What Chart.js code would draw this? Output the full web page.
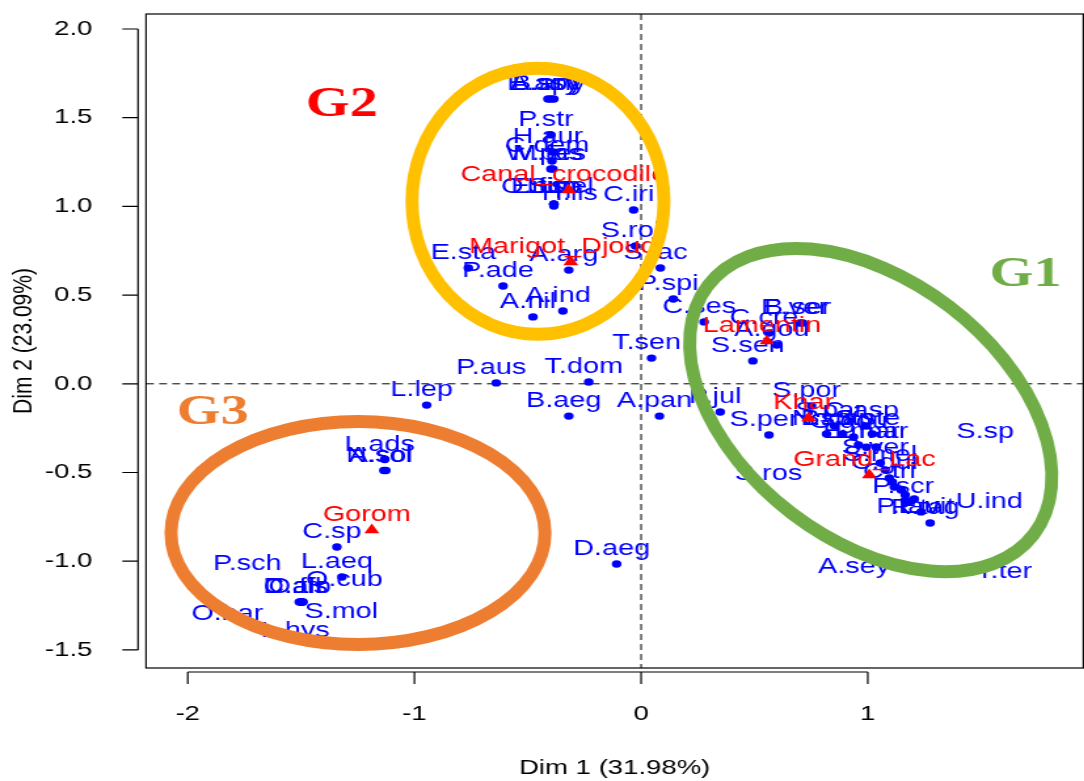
<!DOCTYPE html>
<html>
<head>
<meta charset="utf-8">
<script src="https://cdn.jsdelivr.net/npm/chart.js"></script>
<style>
  html, body { margin: 0; padding: 0; overflow: hidden; background: #fff; }
  canvas { display: block; }
</style>
</head>
<body>
<canvas id="mapChart" width="833" height="781" style="width:1092px;height:781px"></canvas>
<script>
// species coordinates on the first two dimensions
const speciesNames = [
  'A.spy', 'E.asy', 'B.any', 'P.str', 'H.aur', 'C.dem', 'W.pes', 'M.fas',
  'O.niv', 'E.fim', 'L.sp', 'S.pel', 'H.lis', 'C.iri', 'S.rol', 'S.lac',
  'A.arg', 'E.sta', 'P.ade', 'A.ind', 'A.nil', 'P.spi', 'C.ses', 'T.sen',
  'P.aus', 'T.dom', 'L.lep', 'B.aeg', 'A.pan', 'P.jul', 'S.per', 'S.sen',
  'E.ver', 'B.ser', 'C.cre', 'A.gou', 'S.por', 'S.par', 'C.asp', 'N.sp',
  'B.cap', 'G.gou', 'S.ste', 'L.mar', 'E.mar', 'S.ver', 'S.mel', 'C.gui',
  'C.tri', 'P.scr', 'P.tau', 'E.vit', 'R.tag', 'U.ind', 'S.sp', 'S.ros',
  'A.sey', 'T.ter', 'L.ads', 'A.sol', 'N.sol', 'C.sp', 'L.aeq', 'O.cub',
  'D.afr', 'C.alb', 'O.fis', 'S.mol', 'P.sch', 'O.bar', 'L.hys', 'D.aeg'
];
const speciesDim1 = [
  -0.398, -0.411, -0.385, -0.398, -0.389, -0.393, -0.398, -0.389,
  -0.385, -0.385, -0.385, -0.385, -0.385, -0.033, -0.025, 0.085,
  -0.319, -0.762, -0.609, -0.345, -0.477, 0.142, 0.278, 0.046,
  -0.639, -0.231, -0.946, -0.319, 0.081, 0.349, 0.564, 0.493,
  0.700, 0.713, 0.564, 0.599, 0.752, 0.853, 0.994, 0.818,
  0.889, 0.937, 1.020, 1.038, 0.994, 1.055, 1.077, 1.095,
  1.117, 1.178, 1.165, 1.192, 1.275, 1.205, 1.108, 0.959,
  1.147, 1.235, -1.131, -1.126, -1.135, -1.342, -1.320, -1.499,
  -1.508, -1.495, -1.491, -1.499, -1.499, -1.499, -1.499, -0.108
];
const speciesDim2 = [
  1.605, 1.605, 1.605, 1.403, 1.307, 1.256, 1.211, 1.211,
  1.013, 1.013, 1.013, 1.013, 1.002, 0.980, 0.777, 0.653,
  0.641, 0.653, 0.551, 0.410, 0.377, 0.478, 0.349, 0.145,
  0.005, 0.010, -0.120, -0.182, -0.182, -0.159, -0.289, 0.129,
  0.343, 0.343, 0.286, 0.219, -0.125, -0.238, -0.238, -0.283,
  -0.283, -0.300, -0.283, -0.356, -0.358, -0.446, -0.486, -0.531,
  -0.582, -0.666, -0.627, -0.661, -0.785, -0.649, -0.553, -0.345,
  -0.599, -0.722, -0.427, -0.489, -0.489, -0.920, -1.089, -1.230,
  -1.230, -1.230, -1.230, -1.230, -1.230, -1.230, -1.230, -1.016
];

// sampling sites (red triangles)
const siteNames = ['Canal_crocodile', 'Marigot_Djoudj', 'Lamentin', 'Khar', 'Grand_Lac', 'Gorom'];
const siteDim1 = [-0.319, -0.310, 0.555, 0.739, 1.007, -1.188];
const siteDim2 = [1.092, 0.687, 0.241, -0.193, -0.514, -0.824];

const xTicks = [-2, -1, 0, 1];
const yTicks = [2, 1.5, 1, 0.5, 0, -0.5, -1, -1.5];
const xTitle = 'Dim 1 (31.98%)';
const yTitle = 'Dim 2 (23.09%)';

// the picture is drawn on a narrower canvas and stretched sideways
const S = 1092 / 833;
const FONT = "'Liberation Sans', Arial, Helvetica, sans-serif";

// labels pushed away from crowded points (screen px)
const labelNudge = {
  'O.niv': [-14, -2], 'E.fim': [-5, -2], 'L.sp': [5, -2], 'S.pel': [12, -2], 'H.lis': [21, 3],
  'P.tau': [8, 27], 'E.vit': [20, 21], 'U.ind': [80, 18], 'S.sp': [98, -35],
  'S.ros': [-85, 44], 'A.sey': [-42, 92], 'T.ter': [88, 75],
  'O.cub': [48, -7], 'S.mol': [45, 25], 'P.sch': [-49, -23], 'O.bar': [-69, 27], 'L.hys': [-1, 44]
};

// hand drawn group rings (centre in data units, radii in screen px)
const groupRings = [
  {color: '#FFC000', dim1: -0.455, dim2: 1.029, rx: 126, ry: 133, tilt: 0, width: 13},
  {color: '#70AD47', dim1: 1.013, dim2: -0.148, rx: 205, ry: 130, tilt: 37.3, width: 13},
  {color: '#ED7D31', dim1: -1.249, dim2: -0.841, rx: 187, ry: 111.5, tilt: 0, width: 13}
];
const groupTags = [
  {text: 'G2', color: '#FF0000', dim1: -1.320, dim2: 1.572},
  {text: 'G1', color: '#70AD47', dim1: 1.696, dim2: 0.613},
  {text: 'G3', color: '#ED7D31', dim1: -1.890, dim2: -0.165}
];

function drawLabels(chart, meta, names, color) {
  const ctx = chart.ctx;
  ctx.save();
  ctx.font = '22px ' + FONT;
  ctx.fillStyle = color;
  ctx.textAlign = 'center';
  ctx.textBaseline = 'alphabetic';
  meta.data.forEach((pt, i) => {
    const n = labelNudge[names[i]] || [0, 0];
    ctx.fillText(names[i], pt.x + (n[0] - 5) / S, pt.y - 9 + n[1]);
  });
  ctx.restore();
}

const rPlot = {
  id: 'rPlot',
  beforeDatasetsDraw(chart) {
    const {ctx, chartArea: a, scales: {x, y}} = chart;
    ctx.save();
    ctx.strokeStyle = '#000';
    // dashed lines through the origin
    ctx.lineWidth = 1;
    ctx.setLineDash([6, 4]);
    const x0 = x.getPixelForValue(0), y0 = y.getPixelForValue(0);
    ctx.beginPath();
    ctx.moveTo(x0, a.top); ctx.lineTo(x0, a.bottom);
    ctx.moveTo(a.left, y0); ctx.lineTo(a.right, y0);
    ctx.stroke();
    ctx.setLineDash([]);
    // plot box
    ctx.lineWidth = 1.2;
    ctx.strokeRect(a.left, a.top, a.right - a.left, a.bottom - a.top);
    // R style axes, detached from the box
    const yl = a.left - 6.1;
    ctx.beginPath();
    ctx.moveTo(yl, y.getPixelForValue(yTicks[0]));
    ctx.lineTo(yl, y.getPixelForValue(yTicks[yTicks.length - 1]));
    yTicks.forEach(v => {
      const p = y.getPixelForValue(v);
      ctx.moveTo(yl, p); ctx.lineTo(yl - 12, p);
    });
    const xl = a.bottom + 4;
    ctx.moveTo(x.getPixelForValue(xTicks[0]), xl);
    ctx.lineTo(x.getPixelForValue(xTicks[xTicks.length - 1]), xl);
    xTicks.forEach(v => {
      const p = x.getPixelForValue(v);
      ctx.moveTo(p, xl); ctx.lineTo(p, xl + 12);
    });
    ctx.stroke();
    ctx.restore();
  },
  afterDatasetDraw(chart, args) {
    if (args.index === 0) drawLabels(chart, args.meta, speciesNames, '#0000FF');
  },
  afterDatasetsDraw(chart) {
    const {ctx, scales: {x, y}} = chart;
    drawLabels(chart, chart.getDatasetMeta(1), siteNames, '#FF0000');
    // group rings, drawn in screen space so the stroke stays even
    groupRings.forEach(r => {
      ctx.save();
      ctx.scale(1 / S, 1);
      ctx.beginPath();
      ctx.ellipse(x.getPixelForValue(r.dim1) * S, y.getPixelForValue(r.dim2), r.rx, r.ry,
        r.tilt * Math.PI / 180, 0, 2 * Math.PI);
      ctx.lineWidth = r.width;
      ctx.strokeStyle = r.color;
      ctx.stroke();
      ctx.restore();
    });
    ctx.save();
    ctx.font = "bold 43px 'Liberation Serif', 'Times New Roman', serif";
    ctx.textAlign = 'center';
    ctx.textBaseline = 'middle';
    groupTags.forEach(g => {
      ctx.fillStyle = g.color;
      ctx.fillText(g.text, x.getPixelForValue(g.dim1), y.getPixelForValue(g.dim2));
    });
    ctx.restore();
  }
};

new Chart(document.getElementById('mapChart'), {
  type: 'scatter',
  data: {
    datasets: [
      {
        label: 'species',
        data: speciesDim1.map((v, i) => ({x: v, y: speciesDim2[i]})),
        backgroundColor: '#0000FF',
        borderWidth: 0,
        pointRadius: 3.7,
        order: 2
      },
      {
        label: 'sites',
        data: siteDim1.map((v, i) => ({x: v, y: siteDim2[i]})),
        backgroundColor: '#FF0000',
        borderWidth: 0,
        pointStyle: 'triangle',
        pointRadius: 6.6,
        order: 1
      }
    ]
  },
  options: {
    responsive: false,
    devicePixelRatio: 1,
    animation: false,
    layout: {padding: {top: 14, right: 3, left: 0, bottom: 0}},
    plugins: {legend: {display: false}, tooltip: {enabled: false}},
    scales: {
      x: {
        type: 'linear',
        min: -2.184,
        max: 1.951,
        afterBuildTicks: s => { s.ticks = xTicks.map(v => ({value: v})); },
        afterFit: s => { s.height = 113; s.paddingLeft = 0; s.paddingRight = 0; },
        grid: {display: false, drawTicks: false},
        border: {display: false},
        ticks: {
          color: '#000',
          padding: 34,
          font: {family: FONT, size: 21},
          callback: v => String(v)
        },
        title: {
          display: true,
          text: xTitle,
          color: '#000',
          font: {family: FONT, size: 21},
          padding: {top: 0, bottom: 0}
        }
      },
      y: {
        type: 'linear',
        min: -1.602,
        max: 2.0845,
        afterBuildTicks: s => { s.ticks = yTicks.map(v => ({value: v})); },
        afterFit: s => { s.width = 111.4; s.paddingTop = 0; s.paddingBottom = 0; },
        grid: {display: false, drawTicks: false},
        border: {display: false},
        ticks: {
          color: '#000',
          padding: 41,
          font: {family: FONT, size: 21},
          callback: v => v.toFixed(1)
        },
        title: {
          display: true,
          text: yTitle,
          color: '#000',
          font: {family: FONT, size: 21},
          padding: {top: 6, bottom: 0}
        }
      }
    }
  },
  plugins: [rPlot]
});
</script>
</body>
</html>
